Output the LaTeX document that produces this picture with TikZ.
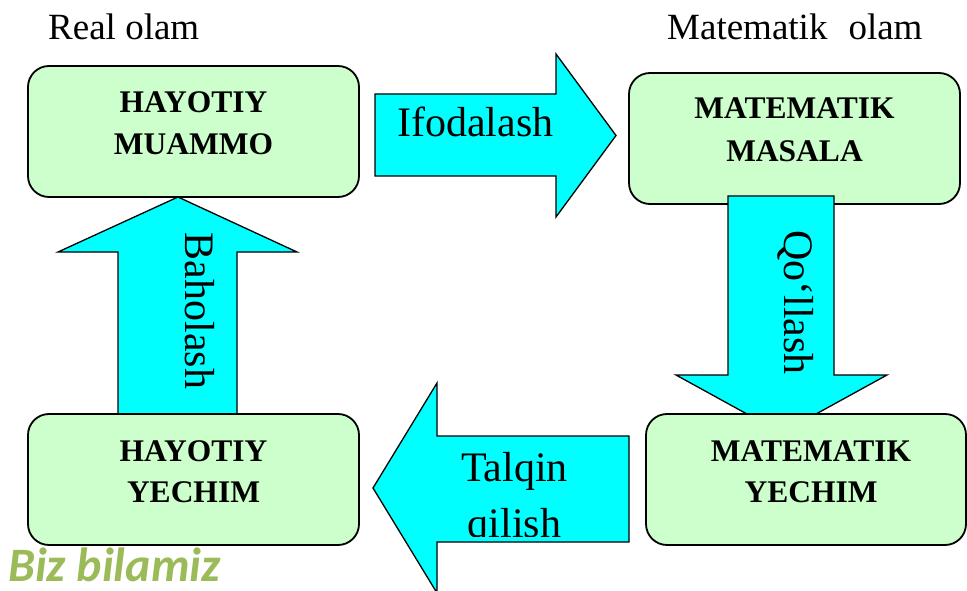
\documentclass[tikz,border=0pt]{standalone}
\usepackage{fontspec}
\setmainfont{Liberation Serif}
\newfontfamily\notefont{Carlito}
\definecolor{boxgreen}{HTML}{CCFFCC}
\definecolor{arrowcyan}{HTML}{00FFFF}
\definecolor{notegreen}{HTML}{9BBB59}

\begin{document}
\begin{tikzpicture}[x=1pt,y=-1pt,
  stage/.style={draw=black, line width=1.8pt, fill=boxgreen,
    rounded corners=21pt, inner sep=0pt, minimum height=131pt},
  stagetext/.style={font=\fontsize{31.5}{38}\selectfont\bfseries,
    anchor=base, inner sep=0pt},
  blockarrow/.style={draw=black, line width=1.3pt, fill=arrowcyan,
    line join=miter},
  arrowtext/.style={font=\fontsize{42}{50}\selectfont, inner sep=0pt},
  worldtext/.style={font=\fontsize{37}{44}\selectfont,
    anchor=base west, inner sep=0pt}]

\useasboundingbox (0,0) rectangle (967,591);

% world headings
\node[worldtext] (real) at (48,40) {Real olam};
\node[worldtext] (math) at (667,40) {Matematik\hspace{21pt}olam};

% upper boxes
\node[stage, minimum width=331pt] (problem) at (193.5,131.5) {};
\node[stage, minimum width=331pt] (task) at (794.5,138.5) {};

% Ifodalash: problem -> task
\draw[blockarrow] (375,94) -- (556,94) -- (556,54) -- (616,135.5)
  -- (556,217) -- (556,176) -- (375,176) -- cycle;
\node[arrowtext, anchor=base west] (ifoda) at (397,137) {Ifodalash};

% Qo'llash: task -> math solution
\draw[blockarrow] (728,196) -- (834,196) -- (834,375) -- (887,375)
  -- (781.5,433) -- (676,375) -- (728,375) -- cycle;
\node[arrowtext, rotate=-90, anchor=base] (qollash) at (784,302.5) {Qo‘llash};

% Baholash: life solution -> problem
\draw[blockarrow] (178,197) -- (297,252) -- (237,252) -- (237,420)
  -- (118,420) -- (118,252) -- (58,252) -- cycle;
\node[arrowtext, rotate=-90, anchor=base] (baho) at (185,311) {Baholash};

% lower boxes
\node[stage, minimum width=331pt] (lifesol) at (193.5,479.5) {};
\node[stage, minimum width=320pt] (mathsol) at (806,479.5) {};

% Talqin qilish: math solution -> life solution
\draw[blockarrow] (373,488) -- (437,383) -- (437,436) -- (629,436)
  -- (629,542) -- (437,542) -- (437,593) -- cycle;
\begin{scope}
  \clip (437,436) rectangle (629,536);
  \node[arrowtext, anchor=base] (talqin) at (514.5,481) {Talqin};
  \node[arrowtext, anchor=base] (qilish) at (514.5,537) {qilish};
\end{scope}

% box captions
\node[stagetext] (p1) at (193.5,113) {HAYOTIY};
\node[stagetext] (p2) at (193.5,155) {MUAMMO};
\node[stagetext] (t1) at (794.5,119) {MATEMATIK};
\node[stagetext] (t2) at (794.5,162) {MASALA};
\node[stagetext] (l1) at (193.5,461) {HAYOTIY};
\node[stagetext] (l2) at (193.5,502) {YECHIM};
\node[stagetext] (m1) at (811,461) {MATEMATIK};
\node[stagetext] (m2) at (811,502) {YECHIM};

% footnote
\node[font=\notefont\fontsize{48}{56}\selectfont\bfseries\itshape,
  text=notegreen, anchor=base west, inner sep=0pt] (note) at (8,581) {Biz bilamiz};
\end{tikzpicture}
\end{document}
